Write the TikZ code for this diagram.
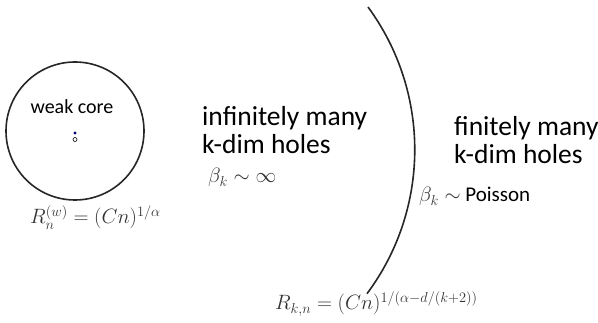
\documentclass[tikz,border=0pt]{standalone}
\usepackage{fontspec}
\setmainfont{Carlito}
\begin{document}
\begin{tikzpicture}[x=1pt,y=-1pt,
  bigtext/.style={anchor=base west,inner sep=0pt,font=\fontsize{27.5}{32}\selectfont},
  smalltext/.style={anchor=base,inner sep=0pt,font=\fontsize{20}{23}\selectfont},
  mathtext/.style={anchor=base west,inner sep=0pt,text=black!80,font=\fontsize{21}{24}\selectfont},
  outline/.style={draw=black!85,line width=1.6pt}]
\useasboundingbox (0,0) rectangle (598,323);
% weak core circle
\draw[outline] (75,131) circle[radius=69];
\node[smalltext] (weak) at (72,114) {weak core};
\fill[fill=blue!45!black] (75,133) circle[radius=1.6];
\draw[black,line width=0.6pt] (75,139.5) circle[radius=2];
\node[mathtext,font=\fontsize{22}{24}\selectfont] (rw) at (30,224) {$R_n^{(w)} = (Cn)^{1/\alpha}$};
% middle text
\node[bigtext] (inf1) at (202,126) {infinitely many};
\node[bigtext] (inf2) at (202,154) {k-dim holes};
\node[mathtext,font=\fontsize{19.5}{24}\selectfont] (binf) at (208,183) {$\beta_k \sim \infty$};
% arc
\draw[outline] (368,7) arc[start angle=-36.3,end angle=36.7,radius=241];
\node[mathtext] (rk) at (275,310) {$R_{k,n} = (Cn)^{1/(\alpha-d/(k+2))}$};
% right text
\node[bigtext] (fin1) at (454,136) {finitely many};
\node[bigtext] (fin2) at (454,164) {k-dim holes};
\node[mathtext,font=\fontsize{20}{24}\selectfont] (bpois) at (419,202) {$\beta_k \sim$ \textcolor{black}{\fontsize{21}{24}\selectfont Poisson}};
\end{tikzpicture}
\end{document}
